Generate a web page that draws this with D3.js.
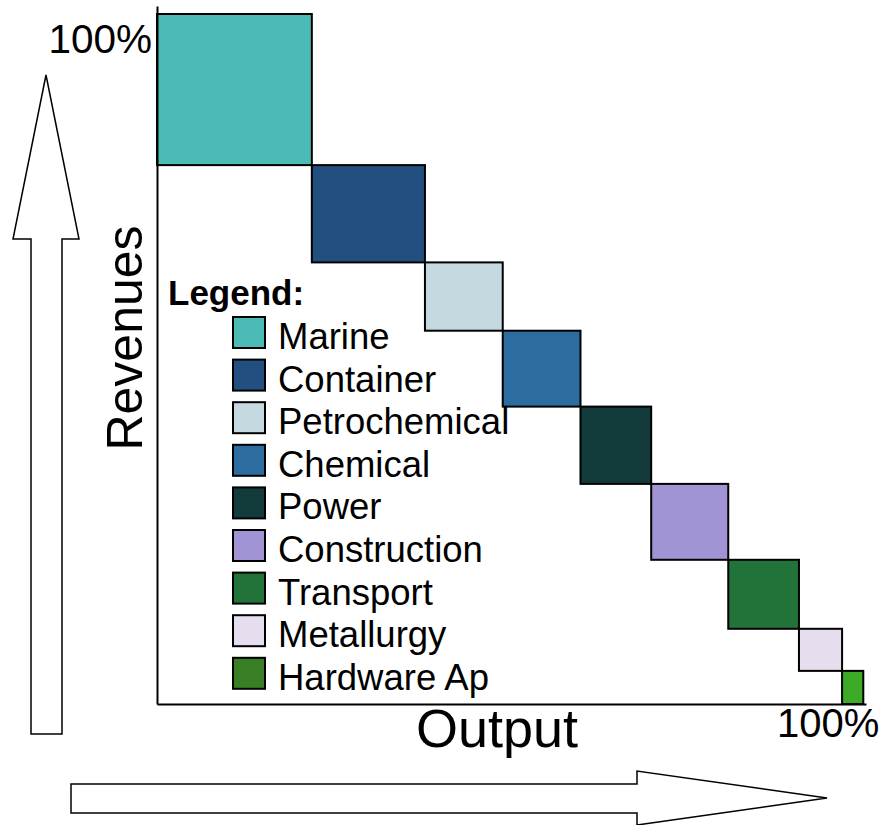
<!DOCTYPE html>
<html>
<head>
<meta charset="utf-8">
<script src="https://cdn.jsdelivr.net/npm/d3@7"></script>
<style>
    body { margin: 0; background: #fff; }
    text { font-family: "Liberation Sans", Arial, sans-serif; fill: #000; }
</style>
</head>
<body>
<div id="chart"></div>
<script>
// Sector shares, in percent of total
var sectors = ["Marine", "Container", "Petrochemical", "Chemical", "Power",
    "Construction", "Transport", "Metallurgy", "Hardware Ap"];
var outputShare = [21.9, 16.0, 11.0, 11.0, 10.0, 10.9, 10.0, 6.1, 3.0];
var revenueShare = [21.9, 14.1, 9.9, 11.0, 11.2, 11.0, 10.0, 6.1, 4.8];
var colors = ["#4dbbb5", "#234f80", "#c5d9e1", "#2c6c9e", "#143b3c",
    "#a293d4", "#227339", "#e6ddee", "#3dab27"];
var legendColors = ["#4dbbb5", "#234f80", "#c5d9e1", "#2c6c9e", "#143b3c",
    "#a293d4", "#227339", "#e6ddee", "#387f24"];

var svgWidth = 879;
var svgHeight = 825;

var svg = d3.select("#chart")
    .append("svg")
    .attr("width", svgWidth)
    .attr("height", svgHeight);

// plot area scales
var xScale = d3.scaleLinear().domain([0, 100]).range([157, 864]);
var yScale = d3.scaleLinear().domain([0, 100]).range([704, 14]);

// build staircase rows from cumulative shares
var cumOut = 0, cumRev = 0;
var data = sectors.map(function (name, i) {
    var d = {
        name: name,
        x0: cumOut,
        x1: cumOut + outputShare[i],
        yTop: 100 - cumRev,
        yBottom: 100 - cumRev - revenueShare[i],
        color: colors[i],
        legendColor: legendColors[i]
    };
    cumOut += outputShare[i];
    cumRev += revenueShare[i];
    return d;
});

// big arrows behind the axes
var arrows = svg.append("g")
    .attr("fill", "#fff")
    .attr("stroke", "#000")
    .attr("stroke-width", 1.5);

arrows.append("polygon")
    .attr("points", "46,75 79,239 62,239 62,734 31,734 31,239 13,239");

arrows.append("polygon")
    .attr("points", "71,784 637,784 637,771 827,798 637,825 637,813 71,813");

// rectangles
svg.append("g").selectAll("rect")
    .data(data)
    .enter()
    .append("rect")
    .attr("x", d => xScale(d.x0))
    .attr("y", d => yScale(d.yTop))
    .attr("width", d => xScale(d.x1) - xScale(d.x0))
    .attr("height", d => yScale(d.yBottom) - yScale(d.yTop))
    .attr("fill", d => d.color)
    .attr("stroke", "#000")
    .attr("stroke-width", 2);

// axes without ticks, lines run a bit past 100%
var yAxisScale = d3.scaleLinear().domain([0, 101.2]).range([704, 6]);
var xAxisScale = d3.scaleLinear().domain([0, 100.3]).range([157, 866]);

svg.append("g")
    .attr("transform", "translate(157,0)")
    .call(d3.axisLeft(yAxisScale).tickValues([]).tickSizeOuter(0))
    .select(".domain").attr("stroke-width", 2);

svg.append("g")
    .attr("transform", "translate(0,704)")
    .call(d3.axisBottom(xAxisScale).tickValues([]).tickSizeOuter(0))
    .select(".domain").attr("stroke-width", 2);

// labels
svg.append("text")
    .attr("x", 152)
    .attr("y", 53)
    .attr("text-anchor", "end")
    .attr("font-size", "40.5px")
    .text("100%");

svg.append("text")
    .attr("x", 777)
    .attr("y", 737)
    .attr("font-size", "40px")
    .text("100%");

svg.append("text")
    .attr("x", 497)
    .attr("y", 747)
    .attr("text-anchor", "middle")
    .attr("font-size", "54px")
    .text("Output");

svg.append("text")
    .attr("transform", "translate(142,338) rotate(-90)")
    .attr("text-anchor", "middle")
    .attr("font-size", "50px")
    .text("Revenues");

// legend
var legend = svg.append("g");

legend.append("text")
    .attr("x", 168)
    .attr("y", 305)
    .attr("font-size", "35px")
    .attr("font-weight", "bold")
    .text("Legend:");

var rows = legend.selectAll(".row")
    .data(data)
    .enter()
    .append("g")
    .attr("class", "row")
    .attr("transform", (d, i) => `translate(233,${317 + i * 42.6})`);

rows.append("rect")
    .attr("width", 32)
    .attr("height", 31)
    .attr("fill", d => d.legendColor)
    .attr("stroke", "#000")
    .attr("stroke-width", 2);

rows.append("text")
    .attr("x", 45)
    .attr("y", 32)
    .attr("font-size", "36.5px")
    .text(d => d.name);
</script>
</body>
</html>
